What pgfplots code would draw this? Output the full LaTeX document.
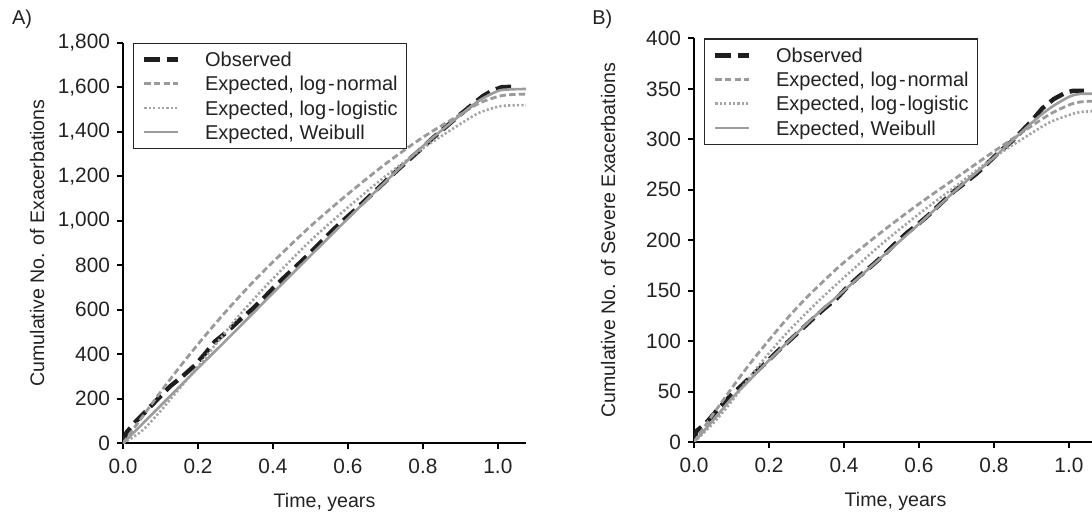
\documentclass[border=0pt]{standalone}
\usepackage{fontspec}
\setmainfont{Liberation Sans}
\usepackage{pgfplots}
\usepackage{pgfplotstable}
\pgfplotsset{compat=1.18}

\definecolor{obs}{HTML}{1E1E1E}
\definecolor{lnorm}{HTML}{9A9A9A}
\definecolor{llog}{HTML}{A4A4A4}
\definecolor{weib}{HTML}{9C9C9C}
\definecolor{txt}{HTML}{222222}

% panel A: expected curves
\pgfplotstableread{
t      ln     ll     wb
0      0      0      0
0.05   115    55     84
0.1    230    145    169
0.15   340    245    253
0.2    445    345    338
0.25   545    450    421
0.3    640    555    505
0.35   730    650    590
0.4    815    740    675
0.5    975    910    843
0.6    1120   1060   1010
0.7    1255   1200   1175
0.8    1375   1325   1335
0.9    1478   1435   1475
0.95   1528   1485   1540
1.0    1558   1512   1583
1.03   1566   1518   1590
1.075  1569   1520   1592
}\expA

\pgfplotstableread{
t      y
0      8
0.01   50
0.035  100
0.063  147
0.095  203
0.125  255
0.16   303
0.193  352
0.22   405
0.245  457
0.28   505
0.312  555
0.345  603
0.375  652
0.405  705
0.436  755
0.468  805
0.499  855
0.53   908
0.561  960
0.59   1005
0.62   1050
0.65   1098
0.68   1145
0.71   1193
0.74   1240
0.77   1285
0.8    1330
0.83   1377
0.86   1420
0.9    1478
0.93   1520
0.96   1560
0.985  1585
1.01   1600
1.05   1603
}\obsA

% panel B: expected curves
\pgfplotstableread{
t      ln     ll     wb
0      0      0      0
0.05   27     18     21
0.1    53     40     43
0.15   78     65     62
0.2    101    88     81
0.25   123    109    99
0.3    143    128    117
0.35   161    146    134
0.4    178    163    150
0.5    208    196    183
0.6    236    226    216
0.7    262    254    250
0.8    288    282    282
0.9    313    306    316
0.95   325    317    331
1.0    334    324    342
1.03   337    327    345
1.075  338    328    345
}\expB

\pgfplotstableread{
t      y
0      2
0.007  11
0.03   18
0.065  33
0.095  45
0.127  56
0.158  67
0.19   78
0.223  90
0.256  101
0.285  111
0.314  121
0.347  132
0.38   142
0.41   154
0.443  165
0.475  175
0.505  185
0.535  196
0.567  207
0.598  216
0.629  226
0.66   237
0.692  248
0.72   256
0.754  266
0.785  277
0.816  288
0.845  297
0.869  306
0.9    318
0.93   331
0.96   340
0.99   346
1.01   348
1.04   348
}\obsB

\pgfplotsset{
  panel/.style={
    scale only axis,
    width=201.5pt,
    axis lines=left,
    axis line style={-, line width=1pt, black},
    tick align=outside,
    major tick length=3pt,
    tick style={line width=1pt, black},
    xmin=0, xmax=1.075, ymin=0,
    xtick={0,0.2,0.4,0.6,0.8,1.0},
    /pgf/number format/assume math mode=true,
    tick label style={font=\fontsize{10.4}{12}\selectfont, text=txt},
    xticklabel style={/pgf/number format/fixed, /pgf/number format/fixed zerofill,
      /pgf/number format/precision=1, /tikz/yshift=-1.5pt},
    yticklabel style={/pgf/number format/fixed, /pgf/number format/1000 sep={,}},
    label style={font=\fontsize{9.8}{12}\selectfont, text=txt},
    xlabel style={at={(axis description cs:0.5,0)}, anchor=north, yshift=-21.5pt},
    ylabel style={at={(axis description cs:-0.2134,0.5)}, anchor=center},
    legend cell align=left,
    legend style={at={(axis description cs:0.024,1)}, anchor=north west,
      draw=black!85, line width=0.6pt, fill=white,
      inner xsep=4.5pt, inner ysep=2.1pt, row sep=0pt,
      font=\fontsize{10}{12}\selectfont, text=txt,
      cells={anchor=west},
      nodes={inner sep=0pt, text height=9.6pt, text depth=2.5pt},
      /tikz/every odd column/.append style={column sep=12.5pt}},
    legend image code/.code={
      \draw[#1] (0pt,0pt) -- (16.7pt,0pt);
    },
  },
  observed/.style={color=obs, line width=2.2pt, dash pattern=on 7.8pt off 3.4pt},
  lognormal/.style={color=lnorm, line width=1.4pt, dash pattern=on 3.2pt off 1.6pt, smooth},
  loglogistic/.style={color=llog, line width=1.3pt, dash pattern=on 1.1pt off 1.1pt, smooth},
  weibull/.style={color=weib, line width=1.3pt, smooth},
}

\begin{document}
\begin{tikzpicture}
\path[use as bounding box] (0pt,0pt) rectangle (546pt,257pt);
\begin{scope}[overlay]
\clip (0pt,0pt) rectangle (546pt,257pt);

\node[anchor=base west, inner sep=0pt, font=\fontsize{10}{12}\selectfont, text=txt] at (5.8pt,244.5pt) {A)};
\node[anchor=base west, inner sep=0pt, font=\fontsize{10}{12}\selectfont, text=txt] at (296pt,244.5pt) {B)};

\begin{axis}[panel,
  at={(61.5pt,35.35pt)}, anchor=south west,
  height=200.3pt,
  ymax=1800, ytick={0,200,...,1800},
  xlabel={Time, years},
  ylabel={Cumulative No. of Exacerbations}]
  \addplot[observed] table[x=t, y=y] {\obsA};
  \addlegendentry{Observed}
  \addplot[lognormal] table[x=t, y=ln] {\expA};
  \addlegendentry{Expected, log\kern0.9pt-\kern0.9pt normal}
  \addplot[loglogistic] table[x=t, y=ll] {\expA};
  \addlegendentry{Expected, log\kern0.9pt-\kern0.9pt logistic}
  \addplot[weibull] table[x=t, y=wb] {\expA};
  \addlegendentry{Expected, Weibull}
\end{axis}

\begin{axis}[panel,
  at={(347pt,36pt)}, anchor=south west,
  height=201.8pt,
  ymax=400, ytick={0,50,...,400},
  xlabel={Time, years},
  ylabel={Cumulative No. of Severe Exacerbations}]
  \addplot[observed] table[x=t, y=y] {\obsB};
  \addlegendentry{Observed}
  \addplot[lognormal] table[x=t, y=ln] {\expB};
  \addlegendentry{Expected, log\kern0.9pt-\kern0.9pt normal}
  \addplot[loglogistic] table[x=t, y=ll] {\expB};
  \addlegendentry{Expected, log\kern0.9pt-\kern0.9pt logistic\hspace{4pt}}
  \addplot[weibull] table[x=t, y=wb] {\expB};
  \addlegendentry{Expected, Weibull}
\end{axis}
\end{scope}
\end{tikzpicture}
\end{document}
